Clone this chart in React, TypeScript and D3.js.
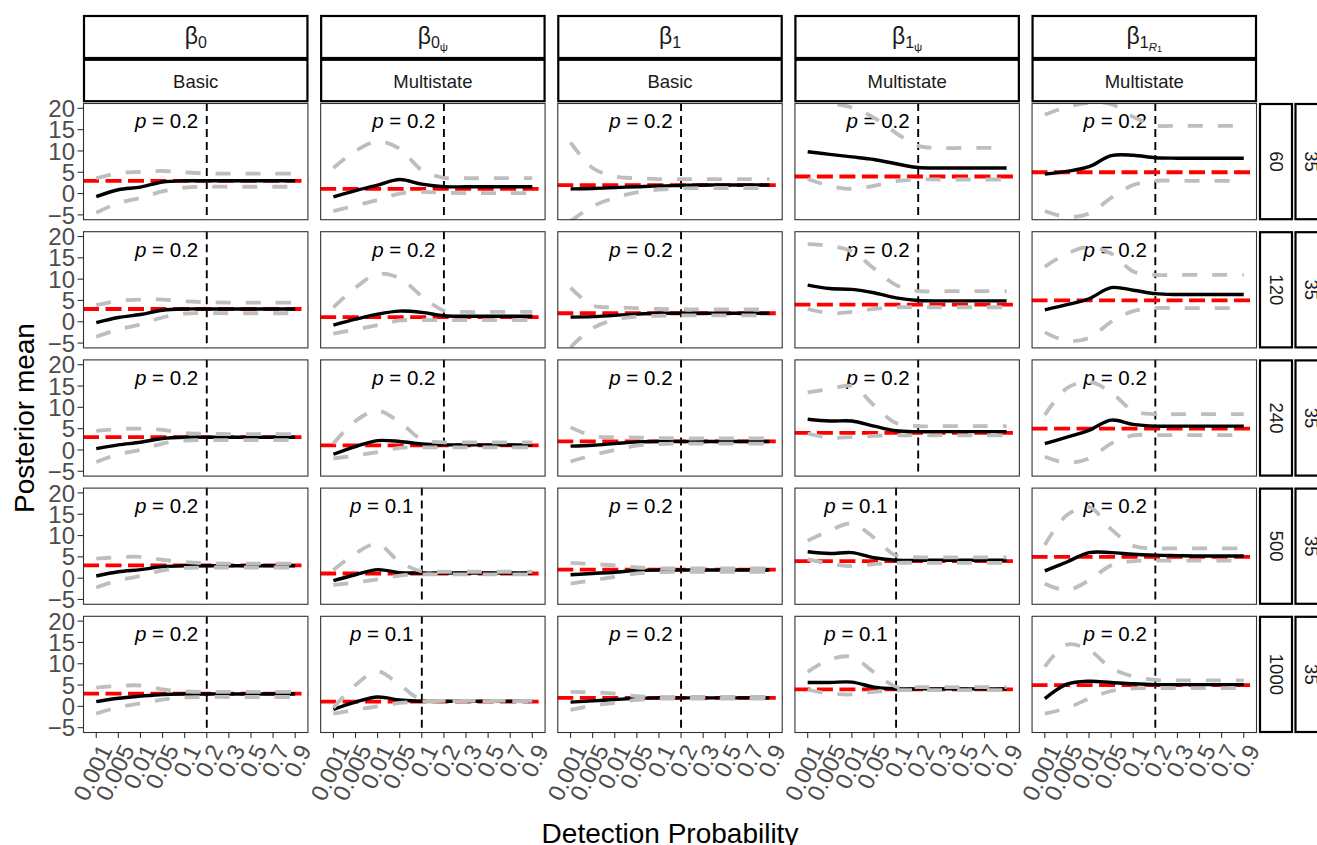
import React from 'react';
import * as d3 from 'd3';

// ---------------- data ----------------
const probLabels = ['0.001', '0.005', '0.01', '0.05', '0.1', '0.2', '0.3', '0.5', '0.7', '0.9'];
const sampleSizes = ['60', '120', '240', '500', '1000'];
const outerRowLabel = '35';
const modelLabels = ['Basic', 'Multistate', 'Basic', 'Multistate', 'Multistate'];
const trueValues = [3, 1.1, 2, 4, 5];
const cutoffs = [
  ['0.2', '0.2', '0.2', '0.2', '0.2'],
  ['0.2', '0.2', '0.2', '0.2', '0.2'],
  ['0.2', '0.2', '0.2', '0.2', '0.2'],
  ['0.2', '0.1', '0.2', '0.1', '0.2'],
  ['0.2', '0.1', '0.2', '0.1', '0.2'],
];
const yTicks = [-5, 0, 5, 10, 15, 20];
const yLimits = [-5, 20];

// beta_0 (Basic)
const meanB0 = [
  [-0.7, 0.9, 1.5, 2.7, 3.0, 3.0, 3.0, 3.0, 3.0, 3.0],
  [-0.2, 1.0, 1.7, 2.7, 3.0, 3.0, 3.0, 3.0, 3.0, 3.0],
  [0.3, 1.2, 1.8, 2.7, 3.0, 3.0, 3.0, 3.0, 3.0, 3.0],
  [0.5, 1.5, 2.0, 2.7, 2.9, 2.9, 2.9, 2.9, 2.9, 2.9],
  [1.1, 1.9, 2.4, 2.8, 2.9, 2.9, 2.9, 2.9, 2.9, 2.9],
];
const lowerB0 = [
  [-4.5, -2.2, -1.0, 0.5, 1.4, 1.6, 1.6, 1.6, 1.6, 1.6],
  [-3.5, -1.8, -0.6, 1.0, 1.9, 2.0, 2.0, 2.0, 2.0, 2.0],
  [-2.8, -1.0, 0.0, 1.5, 2.2, 2.3, 2.3, 2.3, 2.3, 2.3],
  [-2.2, -0.5, 0.5, 1.8, 2.4, 2.5, 2.5, 2.5, 2.5, 2.5],
  [-1.7, -0.2, 0.7, 1.6, 2.1, 2.2, 2.2, 2.2, 2.2, 2.2],
];
const upperB0 = [
  [3.6, 4.8, 5.1, 5.3, 5.0, 4.7, 4.7, 4.7, 4.7, 4.7],
  [3.9, 4.9, 5.2, 5.2, 4.8, 4.6, 4.5, 4.5, 4.5, 4.5],
  [4.5, 4.9, 5.0, 4.7, 4.0, 3.8, 3.7, 3.7, 3.7, 3.7],
  [4.6, 4.9, 5.0, 4.3, 3.8, 3.5, 3.4, 3.4, 3.4, 3.4],
  [4.4, 4.8, 4.9, 4.0, 3.5, 3.4, 3.4, 3.4, 3.4, 3.4],
];

// beta_0psi (Multistate)
const meanB0psi = [
  [-0.8, 0.7, 2.0, 3.3, 2.2, 1.6, 1.6, 1.6, 1.6, 1.6],
  [-0.8, 0.6, 1.8, 2.5, 2.2, 1.4, 1.3, 1.3, 1.3, 1.3],
  [-1.0, 0.8, 2.2, 2.0, 1.4, 1.2, 1.2, 1.2, 1.2, 1.2],
  [-0.6, 0.8, 2.0, 1.3, 1.2, 1.2, 1.2, 1.2, 1.2, 1.2],
  [-0.7, 1.0, 2.2, 1.5, 1.2, 1.2, 1.2, 1.2, 1.2, 1.2],
];
const lowerB0psi = [
  [-4.1, -2.8, -1.5, 0.0, 0.4, 0.2, 0.1, 0.1, 0.1, 0.1],
  [-2.8, -1.8, -0.8, 0.3, 0.4, 0.4, 0.4, 0.4, 0.4, 0.4],
  [-2.0, -1.3, -0.5, 0.5, 0.6, 0.6, 0.6, 0.6, 0.6, 0.6],
  [-1.6, -1.0, -0.3, 0.6, 0.9, 0.9, 0.9, 0.9, 0.9, 0.9],
  [-1.7, -0.8, 0.0, 0.8, 1.1, 1.2, 1.2, 1.2, 1.2, 1.2],
];
const upperB0psi = [
  [6.0, 10.0, 12.2, 10.5, 5.5, 3.7, 3.6, 3.6, 3.6, 3.6],
  [3.4, 8.0, 11.2, 10.2, 6.0, 2.6, 2.3, 2.3, 2.3, 2.3],
  [1.5, 6.8, 9.2, 6.5, 2.5, 1.8, 1.8, 1.8, 1.8, 1.8],
  [1.9, 5.8, 8.0, 3.8, 1.6, 1.5, 1.5, 1.5, 1.5, 1.5],
  [-0.3, 5.0, 8.2, 5.0, 1.5, 1.3, 1.3, 1.3, 1.3, 1.3],
];

// beta_1 (Basic)
const meanB1 = [
  [1.1, 1.2, 1.4, 1.6, 1.8, 1.9, 2.0, 2.0, 2.0, 2.0],
  [1.1, 1.2, 1.5, 1.8, 2.0, 2.0, 2.0, 2.0, 2.0, 2.0],
  [0.9, 1.1, 1.5, 1.9, 2.0, 2.0, 2.0, 2.0, 2.0, 2.0],
  [0.8, 1.1, 1.4, 1.8, 1.9, 1.9, 1.9, 1.9, 1.9, 1.9],
  [1.0, 1.3, 1.6, 1.9, 2.0, 2.0, 2.0, 2.0, 2.0, 2.0],
];
const lowerB1 = [
  [-6.5, -3.0, -1.0, 0.3, 0.9, 1.2, 1.3, 1.3, 1.3, 1.3],
  [-6.0, -1.5, 0.5, 1.2, 1.4, 1.5, 1.5, 1.5, 1.5, 1.5],
  [-2.7, -1.2, 0.0, 1.0, 1.4, 1.5, 1.5, 1.5, 1.5, 1.5],
  [-1.3, -0.5, 0.3, 1.1, 1.4, 1.5, 1.5, 1.5, 1.5, 1.5],
  [-0.8, 0.2, 0.8, 1.5, 1.8, 1.8, 1.8, 1.8, 1.8, 1.8],
];
const upperB1 = [
  [12.0, 6.0, 4.0, 3.6, 3.4, 3.4, 3.4, 3.4, 3.4, 3.4],
  [8.0, 3.8, 3.4, 3.2, 3.0, 2.9, 2.9, 2.9, 2.9, 2.9],
  [5.3, 3.3, 3.0, 2.9, 2.8, 2.7, 2.7, 2.7, 2.7, 2.7],
  [3.6, 3.3, 3.0, 2.5, 2.3, 2.3, 2.3, 2.3, 2.3, 2.3],
  [3.4, 3.3, 3.0, 2.4, 2.2, 2.2, 2.2, 2.2, 2.2, 2.2],
];

// beta_1psi (Multistate)
const meanB1psi = [
  [9.8, 9.2, 8.6, 8.0, 7.0, 6.1, 6.0, 6.0, 6.0, 6.0],
  [8.6, 7.8, 7.6, 6.8, 5.6, 5.0, 4.9, 4.9, 4.9, 4.9],
  [7.2, 6.8, 6.8, 5.6, 4.5, 4.3, 4.3, 4.3, 4.3, 4.3],
  [6.2, 5.8, 6.0, 4.8, 4.2, 4.2, 4.2, 4.2, 4.2, 4.2],
  [5.6, 5.6, 5.7, 4.5, 4.1, 4.1, 4.1, 4.1, 4.1, 4.1],
];
const lowerB1psi = [
  [3.4, 1.8, 1.1, 1.8, 2.9, 3.3, 3.3, 3.3, 3.3, 3.3],
  [3.0, 2.0, 2.3, 3.0, 3.4, 3.4, 3.4, 3.4, 3.4, 3.4],
  [3.8, 2.9, 3.0, 3.3, 3.4, 3.4, 3.4, 3.4, 3.4, 3.4],
  [4.4, 3.4, 2.8, 3.3, 3.6, 3.6, 3.6, 3.6, 3.6, 3.6],
  [3.9, 3.0, 2.8, 3.4, 3.8, 3.8, 3.8, 3.8, 3.8, 3.8],
];
const upperB1psi = [
  [21.8, 21.2, 20.2, 17.8, 14.2, 11.2, 10.7, 10.7, 10.7, 10.7],
  [18.2, 17.8, 16.5, 12.5, 8.6, 7.2, 7.2, 7.2, 7.2, 7.2],
  [13.5, 14.3, 15.0, 10.5, 6.3, 5.6, 5.6, 5.6, 5.6, 5.6],
  [8.8, 11.2, 12.8, 9.5, 5.3, 4.9, 4.9, 4.9, 4.9, 4.9],
  [8.1, 11.0, 11.6, 8.0, 4.6, 4.5, 4.5, 4.5, 4.5, 4.5],
];

// beta_1R1 (Multistate)
const meanB1R1 = [
  [4.6, 5.2, 6.3, 8.9, 9.0, 8.4, 8.3, 8.3, 8.3, 8.3],
  [2.8, 4.0, 5.4, 8.0, 7.4, 6.6, 6.4, 6.4, 6.4, 6.4],
  [1.5, 3.0, 4.6, 7.0, 6.0, 5.6, 5.6, 5.6, 5.6, 5.6],
  [1.7, 3.8, 6.0, 6.0, 5.6, 5.4, 5.3, 5.2, 5.2, 5.2],
  [1.8, 5.2, 5.9, 5.6, 5.3, 5.1, 5.1, 5.1, 5.1, 5.1],
];
const lowerB1R1 = [
  [-4.1, -5.5, -4.7, -1.0, 2.0, 3.0, 3.0, 3.0, 3.0, 3.0],
  [-2.5, -4.5, -3.8, 0.0, 2.5, 3.2, 3.2, 3.2, 3.2, 3.2],
  [-1.6, -3.0, -2.0, 1.5, 3.4, 3.5, 3.5, 3.5, 3.5, 3.5],
  [-1.3, -2.8, -0.5, 3.0, 4.0, 4.1, 4.1, 4.1, 4.1, 4.1],
  [-1.7, -0.4, 1.8, 3.6, 4.2, 4.3, 4.3, 4.3, 4.3, 4.3],
];
const upperB1R1 = [
  [18.5, 20.3, 21.3, 21.0, 18.0, 16.0, 15.9, 15.9, 15.9, 15.9],
  [12.9, 16.0, 17.5, 16.0, 11.8, 11.0, 11.0, 11.0, 11.0, 11.0],
  [8.2, 14.5, 16.0, 13.5, 9.2, 8.4, 8.4, 8.4, 8.4, 8.4],
  [7.8, 14.8, 16.7, 11.5, 7.6, 7.0, 7.0, 7.0, 7.0, 7.0],
  [9.3, 14.5, 13.2, 9.0, 7.0, 6.2, 6.1, 6.1, 6.1, 6.1],
];

const meanSeries = [meanB0, meanB0psi, meanB1, meanB1psi, meanB1R1];
const lowerSeries = [lowerB0, lowerB0psi, lowerB1, lowerB1psi, lowerB1R1];
const upperSeries = [upperB0, upperB0psi, upperB1, upperB1psi, upperB1R1];

// parameter strip labels: [text, subscript level, italic]
const paramLabels: [string, number, boolean][][] = [
  [['β', 0, false], ['0', 1, false]],
  [['β', 0, false], ['0', 1, false], ['ψ', 2, false]],
  [['β', 0, false], ['1', 1, false]],
  [['β', 0, false], ['1', 1, false], ['ψ', 2, false]],
  [['β', 0, false], ['1', 1, false], ['R', 2, true], ['1', 3, false]],
];

// ---------------- layout ----------------
const W = 1317;
const H = 845;
const FONT = "'Liberation Sans', Arial, Helvetica, sans-serif";
const plotL = 83;
const plotR = 1257;
const plotT = 103;
const plotB = 733;
const colGap = 11.7;
const rowGap = 11;
const colW = (plotR - plotL - colGap * 4) / 5;
const rowH = (plotB - plotT - rowGap * 4) / 5;
const colX = (c: number) => plotL + c * (colW + colGap);
const rowY = (r: number) => plotT + r * (rowH + rowGap);
const yDomainPad = (yLimits[1] - yLimits[0]) * 0.05;

const levelSize = [23, 16, 11.5, 9];
const levelBase = [0, 3.8, 6.8, 8.4];

function makeX(c: number) {
  const x0 = colX(c);
  return d3.scalePoint<string>().domain(probLabels).range([x0, x0 + colW]).padding(0.6);
}
function makeY(r: number) {
  const y0 = rowY(r);
  return d3
    .scaleLinear()
    .domain([yLimits[0] - yDomainPad, yLimits[1] + yDomainPad])
    .range([y0 + rowH, y0]);
}

function Panel({ r, c }: { r: number; c: number }) {
  const x = makeX(c);
  const y = makeY(r);
  const x0 = colX(c);
  const y0 = rowY(r);
  const line = d3
    .line<number>()
    .x((_, i) => x(probLabels[i]) as number)
    .y((d) => y(d))
    .curve(d3.curveCatmullRom.alpha(0.5));
  const cut = cutoffs[r][c];
  const cx = x(cut) as number;
  const clipId = `clip-${r}-${c}`;
  return (
    <g>
      <defs>
        <clipPath id={clipId}>
          <rect x={x0} y={y0} width={colW} height={rowH} />
        </clipPath>
      </defs>
      <rect x={x0} y={y0} width={colW} height={rowH} fill="#fff" />
      <g clipPath={`url(#${clipId})`}>
        <line x1={cx} x2={cx} y1={y0} y2={y0 + rowH} stroke="#000" strokeWidth={1.9} strokeDasharray="8 5" />
        <text x={cx - 8.5} y={y0 + 25.3} textAnchor="end" fontSize={20.5} fill="#000">
          <tspan fontStyle="italic">p</tspan>
          <tspan>{` = ${cut}`}</tspan>
        </text>
        <line
          x1={x0}
          x2={x0 + colW}
          y1={y(trueValues[c])}
          y2={y(trueValues[c])}
          stroke="#FF0000"
          strokeWidth={3.8}
          strokeDasharray="16 6.5"
        />
        <path d={line(meanSeries[c][r]) || ''} fill="none" stroke="#000" strokeWidth={3.4} />
        <path d={line(lowerSeries[c][r]) || ''} fill="none" stroke="#BEBEBE" strokeWidth={3.8} strokeDasharray="15 15" />
        <path d={line(upperSeries[c][r]) || ''} fill="none" stroke="#BEBEBE" strokeWidth={3.8} strokeDasharray="15 15" />
      </g>
      <rect x={x0 + 0.5} y={y0 + 0.5} width={colW - 1} height={rowH - 1} fill="none" stroke="#333333" strokeWidth={1.1} />
    </g>
  );
}

function ParamLabel({ c }: { c: number }) {
  const parts = paramLabels[c];
  let prev = 0;
  return (
    <text x={colX(c) + colW / 2} y={44} textAnchor="middle" fill="#1A1A1A" fontSize={levelSize[0]}>
      {parts.map(([t, lvl, it], i) => {
        const dy = levelBase[lvl] - levelBase[prev];
        prev = lvl;
        return (
          <tspan key={i} dy={dy} fontSize={levelSize[lvl]} fontStyle={it ? 'italic' : 'normal'}>
            {t}
          </tspan>
        );
      })}
    </text>
  );
}

export default function App() {
  const rows = d3.range(5);
  const cols = d3.range(5);
  const yAxisScales = rows.map((r) => makeY(r));
  return (
    <svg
      width={W}
      height={H}
      viewBox={`0 0 ${W} ${H}`}
      style={{ position: 'absolute', left: 0, top: 0, display: 'block' }}
      fontFamily={FONT}
    >
      <rect x={0} y={0} width={W} height={H} fill="#fff" />

      {rows.map((r) => cols.map((c) => <Panel key={`${r}-${c}`} r={r} c={c} />))}

      {/* top strips */}
      {cols.map((c) => (
        <g key={`strip-${c}`}>
          <rect x={colX(c) + 1} y={16} width={colW - 2} height={42} fill="#fff" stroke="#000" strokeWidth={2.2} />
          <rect x={colX(c) + 1} y={59.8} width={colW - 2} height={41.4} fill="#fff" stroke="#000" strokeWidth={2.2} />
          <ParamLabel c={c} />
          <text x={colX(c) + colW / 2} y={87.5} textAnchor="middle" fontSize={18.5} fill="#1A1A1A">
            {modelLabels[c]}
          </text>
        </g>
      ))}

      {/* right strips */}
      {rows.map((r) => {
        const y0 = rowY(r);
        const cy = y0 + rowH / 2;
        return (
          <g key={`rstrip-${r}`}>
            <rect x={1260} y={y0 + 1} width={32} height={rowH - 2} fill="#fff" stroke="#000" strokeWidth={2.2} />
            <rect x={1295.5} y={y0 + 1} width={33} height={rowH - 2} fill="#fff" stroke="#000" strokeWidth={2.2} />
            <text
              transform={`translate(${1276},${cy}) rotate(90)`}
              textAnchor="middle"
              dy="0.35em"
              fontSize={18.5}
              fill="#1A1A1A"
            >
              {sampleSizes[r]}
            </text>
            <text
              transform={`translate(${1311},${cy}) rotate(90)`}
              textAnchor="middle"
              dy="0.35em"
              fontSize={18.5}
              fill="#1A1A1A"
            >
              {outerRowLabel}
            </text>
          </g>
        );
      })}

      {/* y axes */}
      {rows.map((r) => {
        const y = yAxisScales[r];
        return (
          <g key={`yaxis-${r}`}>
            {yTicks.map((t) => (
              <g key={t}>
                <line x1={77.5} x2={83} y1={y(t)} y2={y(t)} stroke="#333333" strokeWidth={1.1} />
                <text x={75} y={y(t)} dy="0.36em" textAnchor="end" fontSize={24} fill="#4D4D4D">
                  {t < 0 ? `\u2212${Math.abs(t)}` : `${t}`}
                </text>
              </g>
            ))}
          </g>
        );
      })}

      {/* x axes */}
      {cols.map((c) => {
        const x = makeX(c);
        return (
          <g key={`xaxis-${c}`}>
            {probLabels.map((p) => {
              const px = x(p) as number;
              return (
                <g key={p}>
                  <line x1={px} x2={px} y1={plotB} y2={plotB + 5} stroke="#333333" strokeWidth={1.1} />
                  <text
                    transform={`translate(${px + 1},${plotB + 9}) rotate(-64)`}
                    textAnchor="end"
                    dy="0.75em"
                    fontSize={23.5}
                    fill="#4D4D4D"
                  >
                    {p}
                  </text>
                </g>
              );
            })}
          </g>
        );
      })}

      {/* axis titles */}
      <text x={(plotL + plotR) / 2} y={843} textAnchor="middle" fontSize={28} fill="#000">
        Detection Probability
      </text>
      <text transform={`translate(33.5,${(plotT + plotB) / 2}) rotate(-90)`} textAnchor="middle" fontSize={28} fill="#000">
        Posterior mean
      </text>
    </svg>
  );
}
